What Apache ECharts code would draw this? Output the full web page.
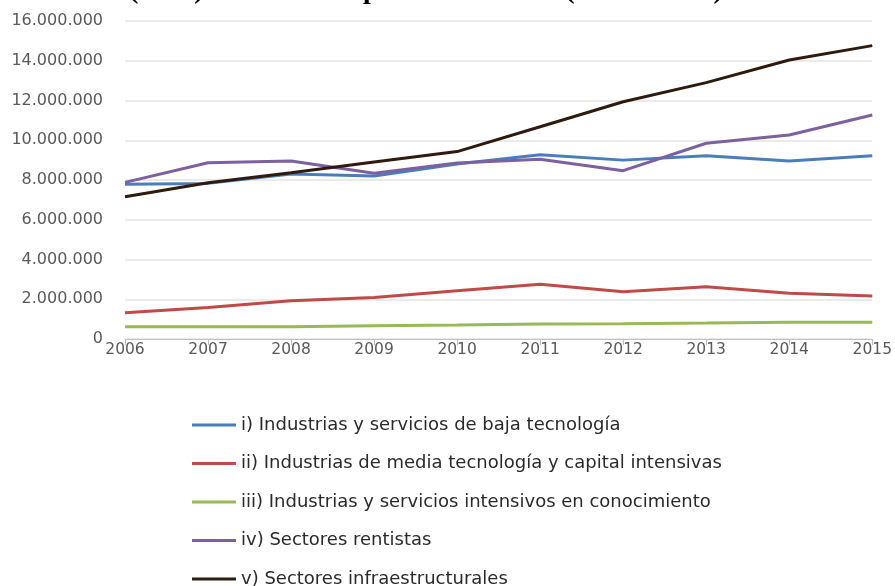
<!DOCTYPE html>
<html>
<head>
<meta charset="utf-8">
<style>html,body{margin:0;padding:0;background:#fff;}#main{width:895px;height:586px;}</style>
<script src="https://cdn.jsdelivr.net/npm/echarts@6/dist/echarts.min.js"></script>
</head>
<body>
<div id="main"></div>
<script>
var years = ['2006','2007','2008','2009','2010','2011','2012','2013','2014','2015'];
var seriesNames = [
  'i) Industrias y servicios de baja tecnología',
  'ii) Industrias de media tecnología y capital intensivas',
  'iii) Industrias y servicios intensivos en conocimiento',
  'iv) Sectores rentistas',
  'v) Sectores infraestructurales'
];
var bajaTec = [7780000, 7830000, 8300000, 8200000, 8800000, 9270000, 9000000, 9220000, 8960000, 9220000];
var mediaTec = [1320000, 1590000, 1930000, 2090000, 2430000, 2750000, 2380000, 2630000, 2300000, 2160000];
var conocimiento = [620000, 620000, 620000, 670000, 700000, 750000, 770000, 800000, 840000, 840000];
var rentistas = [7880000, 8870000, 8960000, 8340000, 8860000, 9040000, 8470000, 9850000, 10260000, 11270000];
var infraestructura = [7160000, 7860000, 8370000, 8900000, 9430000, 10680000, 11940000, 12900000, 14040000, 14760000];
var yTicks = [0, 2000000, 4000000, 6000000, 8000000, 10000000, 12000000, 14000000, 16000000];
var titleText = '(ARS). En miles de pesos constantes (base = 2006).';

var colors = ['#4a7ebb', '#be4b48', '#98b954', '#7d60a0', '#2e1b0e'];
var dataSets = [bajaTec, mediaTec, conocimiento, rentistas, infraestructura];

function fmt(v) {
  return String(v).replace(/\B(?=(\d{3})+(?!\d))/g, '.');
}

var chart = echarts.init(document.getElementById('main'), null, {renderer: 'canvas'});
chart.setOption({
  animation: false,
  backgroundColor: '#ffffff',
  title: {
    text: titleText,
    left: 124,
    top: -28,
    textStyle: {fontFamily: 'Liberation Serif', fontWeight: 'bold', fontSize: 28, color: '#000'}
  },
  grid: {left: 125, right: 20, top: 21, height: 318, containLabel: false},
  legend: {
    orient: 'vertical',
    left: 192,
    top: 416,
    height: 200,
    padding: 0,
    itemWidth: 44,
    itemHeight: 16,
    itemGap: 20.5,
    itemTextGap: 3,
    data: seriesNames.map(function (n, i) {
      return {name: n, icon: 'path://M0,6.5 L44,6.5 L44,9.5 L0,9.5 Z', itemStyle: {color: colors[i]}};
    }),
    textStyle: {fontFamily: 'DejaVu Sans', fontSize: 18, lineHeight: 16, color: '#2a2a2a'}
  },
  xAxis: {
    type: 'category',
    data: years,
    boundaryGap: false,
    axisLine: {lineStyle: {color: '#bfbfbf', width: 1}},
    axisTick: {show: true, length: 6, lineStyle: {color: '#bfbfbf'}},
    axisLabel: {fontFamily: 'DejaVu Sans', fontSize: 15.5, color: '#595959', margin: 3}
  },
  yAxis: {
    type: 'value',
    min: yTicks[0],
    max: yTicks[yTicks.length - 1],
    interval: yTicks[1] - yTicks[0],
    axisLine: {show: false},
    axisTick: {show: false},
    splitLine: {lineStyle: {color: '#e3e3e3', width: 1.5}},
    axisLabel: {fontFamily: 'DejaVu Sans', fontSize: 16, color: '#595959', margin: 22, formatter: fmt}
  },
  series: dataSets.map(function (d, i) {
    return {
      name: seriesNames[i],
      type: 'line',
      data: d,
      symbol: 'none',
      lineStyle: {color: colors[i], width: 3},
      itemStyle: {color: colors[i]},
      z: i === 4 ? 5 : 2 + i
    };
  })
});
</script>
</body>
</html>
